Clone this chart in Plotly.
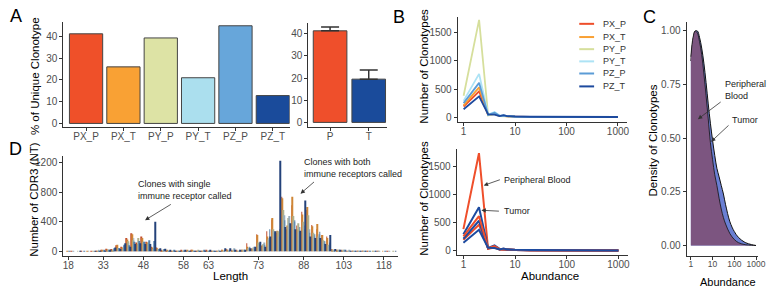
import plotly.graph_objects as go

W, H = 782, 292
FONT = "Liberation Sans, Arial, sans-serif"

# ---------------- data ----------------
samples = ["PX_P", "PX_T", "PY_P", "PY_T", "PZ_P", "PZ_T"]
pct_unique = [41.2, 26.0, 39.3, 21.0, 44.9, 12.8]

groups = ["P", "T"]
group_mean = [41.3, 19.5]
group_err = [1.7, 4.1]

abundance = [1, 2, 3, 4, 5, 6, 7, 8, 10, 20, 50, 100, 1000]
clono_PX_P = [190, 460, 40, 60, 20, 25, 15, 12, 10, 6, 4, 3, 2]
clono_PX_T = [210, 530, 35, 70, 25, 20, 15, 12, 10, 6, 4, 3, 2]
clono_PY_P = [380, 1730, 30, 55, 20, 20, 12, 10, 8, 5, 3, 2, 1]
clono_PY_T = [290, 770, 45, 90, 30, 25, 15, 12, 10, 6, 4, 3, 2]
clono_PZ_P = [250, 610, 40, 80, 25, 30, 18, 14, 12, 7, 5, 3, 2]
clono_PZ_T = [140, 370, 50, 45, 20, 35, 20, 15, 12, 8, 6, 4, 3]

dens_abundance = [1, 1.26, 1.58, 2.0, 2.51, 3.16, 3.98, 5.01, 6.31, 7.94, 10, 12.6,
                  15.8, 20.0, 25.1, 31.6, 39.8, 63.1, 100, 158, 316, 631, 1000]
dens_blood = [0.88, 0.97, 1.00, 0.99, 0.95, 0.89, 0.80, 0.70, 0.59, 0.48, 0.40, 0.33,
              0.28, 0.22, 0.17, 0.13, 0.10, 0.055, 0.028, 0.013, 0.004, 0.001, 0.0]
dens_tumor = [0.86, 0.96, 1.00, 1.00, 0.97, 0.92, 0.85, 0.76, 0.66, 0.57, 0.49, 0.42,
              0.36, 0.32, 0.28, 0.24, 0.19, 0.11, 0.065, 0.037, 0.014, 0.004, 0.0]

cdr3_length = [18, 21, 24, 25, 27, 28, 30, 33, 36, 37, 39, 40, 42, 43, 45, 48, 49, 51, 52,
               54, 55, 56, 57, 58, 59, 60, 61, 62, 63, 64, 65, 66, 67, 68, 69, 70, 71, 72,
               73, 75, 76, 78, 79, 81, 82, 84, 85, 88, 90, 91, 93, 94, 96, 97, 100, 103,
               105, 106, 108, 109, 111, 112, 115, 118, 121, 124]
cdr3_PX_P = [0, 4, 0, 5, 0, 4, 6, 10, 35, 30, 80, 60, 180, 245, 120, 200, 130, 60, 50,
             10, 6, 8, 5, 12, 6, 10, 8, 5, 10, 6, 8, 10, 30, 15, 10, 20, 110, 40,
             230, 70, 270, 430, 250, 740, 300, 625, 350, 535, 560, 355, 300, 220, 200, 30, 15, 10,
             6, 5, 8, 4, 5, 0, 4, 0, 3, 0]
cdr3_PX_T = [5, 0, 0, 0, 6, 0, 8, 12, 25, 20, 90, 50, 160, 230, 100, 180, 120, 50, 40,
             8, 10, 5, 6, 8, 10, 12, 6, 8, 6, 4, 6, 12, 10, 5, 5, 10, 60, 30,
             220, 80, 200, 450, 280, 720, 350, 740, 300, 500, 600, 340, 370, 220, 180, 25, 10, 5,
             8, 4, 5, 6, 4, 5, 0, 4, 0, 0]
cdr3_PY_P = [0, 0, 5, 0, 0, 5, 4, 8, 15, 15, 40, 40, 135, 150, 180, 130, 110, 30, 30,
             10, 5, 6, 8, 6, 4, 8, 10, 6, 5, 8, 5, 6, 5, 10, 5, 10, 40, 50,
             120, 100, 160, 300, 270, 560, 450, 480, 380, 400, 490, 250, 200, 150, 90, 20, 20, 15,
             5, 6, 4, 5, 0, 4, 5, 0, 0, 4]
cdr3_PY_T = [0, 5, 0, 0, 5, 0, 10, 6, 10, 25, 30, 70, 110, 180, 130, 120, 130, 40, 25,
             5, 8, 4, 5, 10, 6, 5, 6, 4, 8, 5, 10, 8, 10, 40, 5, 15, 50, 60,
             90, 120, 180, 270, 200, 490, 480, 400, 260, 350, 300, 200, 230, 120, 70, 15, 10, 10,
             10, 5, 6, 4, 5, 0, 4, 0, 4, 0]
cdr3_PZ_P = [4, 0, 0, 6, 0, 0, 8, 10, 20, 40, 45, 90, 80, 130, 140, 130, 150, 140, 30,
             30, 6, 10, 4, 8, 8, 6, 4, 10, 6, 6, 4, 20, 20, 15, 10, 10, 60, 30,
             110, 90, 300, 250, 300, 420, 300, 420, 330, 300, 250, 230, 265, 140, 120, 20, 15, 10,
             6, 8, 5, 6, 4, 5, 0, 5, 0, 0]
cdr3_PZ_T = [0, 0, 4, 0, 0, 6, 5, 8, 12, 50, 30, 110, 60, 100, 110, 100, 100, 400, 40,
             35, 10, 6, 8, 15, 5, 8, 6, 5, 12, 4, 6, 40, 40, 10, 10, 20, 40, 60,
             130, 60, 200, 270, 1230, 330, 380, 300, 280, 690, 200, 180, 180, 100, 220, 30, 20, 15,
             8, 6, 4, 5, 0, 4, 0, 0, 0, 3]
length_ticks = [18, 33, 48, 58, 63, 73, 88, 103, 118]

# ---------------- styles ----------------
bar_colors = ["#EF5029", "#F9A134", "#DDE3A5", "#ABDFEE", "#67A6DA", "#1A4B9B"]
line_colors = ["#EE4E2A", "#F9A033", "#D6DF9C", "#ADE3F5", "#5B9CD6", "#1D4A9E"]
cdr3_colors = ["#C24E2C", "#CF8636", "#B0B08C", "#98AEBE", "#5281AC", "#24427A"]
RED, BLUE = "#EF4F2B", "#1D4BA0"


def fx(px):
    return px / W


def fy(py):
    return 1 - py / H


def dom_x(a, b):
    return [fx(a), fx(b)]


def dom_y(top, bottom):
    return [fy(bottom), fy(top)]


AX = dict(showline=True, linecolor="#333", linewidth=1, ticks="outside", ticklen=3,
          tickcolor="#333", tickwidth=1, tickfont=dict(size=10, color="#4D4D4D", family=FONT),
          showgrid=False, zeroline=False, fixedrange=True)
XAX = dict(AX, ticklabelstandoff=-3)

fig = go.Figure()

# ---- A left
fig.add_trace(go.Bar(x=samples, y=pct_unique, marker=dict(color=bar_colors, line=dict(color="#444", width=1)),
                     width=0.89, xaxis="x", yaxis="y"))
# ---- A right
fig.add_trace(go.Bar(x=groups, y=group_mean, marker=dict(color=[RED, "#1A4B9B"], line=dict(color="#444", width=1)),
                     width=0.87, xaxis="x2", yaxis="y2",
                     error_y=dict(type="data", array=group_err, arrayminus=[0, 0], symmetric=False,
                                  color="#333", thickness=1.5, width=9)))
# ---- B top
clono = [clono_PX_P, clono_PX_T, clono_PY_P, clono_PY_T, clono_PZ_P, clono_PZ_T]
for s, vals, c in zip(samples, clono, line_colors):
    fig.add_trace(go.Scatter(x=abundance, y=vals, mode="lines", line=dict(color=c, width=1.8),
                             name=s, xaxis="x3", yaxis="y3"))
# ---- B bottom
for s, vals in zip(samples, clono):
    fig.add_trace(go.Scatter(x=abundance, y=vals, mode="lines",
                             line=dict(color=RED if s.endswith("_P") else BLUE, width=2),
                             name=s, xaxis="x4", yaxis="y4"))
# ---- C
fig.add_trace(go.Scatter(x=dens_abundance, y=dens_tumor, mode="lines", fill="tozeroy",
                         fillcolor="#6A7FD3", line=dict(color="#111", width=1, shape="spline"),
                         xaxis="x5", yaxis="y5"))
fig.add_trace(go.Scatter(x=dens_abundance, y=dens_blood, mode="lines", fill="tozeroy",
                         fillcolor="#7C5580", line=dict(color="#111", width=0.8, shape="spline"),
                         xaxis="x5", yaxis="y5"))
# ---- D
cdr3 = [cdr3_PX_P, cdr3_PX_T, cdr3_PY_P, cdr3_PY_T, cdr3_PZ_P, cdr3_PZ_T]
cats = [str(v) for v in cdr3_length]
for s, vals, c in zip(samples, cdr3, cdr3_colors):
    fig.add_trace(go.Bar(x=cats, y=vals, marker=dict(color=c, line=dict(width=0)), name=s,
                         xaxis="x6", yaxis="y6"))

log_ticks = dict(tickvals=[1, 10, 100, 1000], ticktext=["1", "10", "100", "1000"])

fig.update_layout(
    width=W, height=H, margin=dict(l=0, r=0, t=0, b=0),
    paper_bgcolor="white", plot_bgcolor="white", showlegend=False,
    font=dict(family=FONT, color="#000"),
    barmode="group", bargap=0.1, bargroupgap=0,
    xaxis=dict(XAX, domain=dom_x(63, 292), anchor="y", type="category", range=[-0.61, 5.45]),
    yaxis=dict(AX, domain=dom_y(22, 128), anchor="x", range=[-1.7, 46.7], tickvals=[0, 10, 20, 30, 40]),
    xaxis2=dict(XAX, domain=dom_x(311, 390), anchor="y2", type="category", range=[-0.56, 1.46]),
    yaxis2=dict(AX, domain=dom_y(23, 127.7), anchor="x2", range=[-2.0, 44.9], tickvals=[0, 10, 20, 30, 40]),
    xaxis3=dict(XAX, domain=dom_x(462, 633), anchor="y3", type="log", range=[-0.115, 3.17], **log_ticks),
    yaxis3=dict(AX, domain=dom_y(17, 122.7), anchor="x3", range=[-83, 1782], tickvals=[0, 500, 1000, 1500]),
    xaxis4=dict(XAX, domain=dom_x(461, 634), anchor="y4", type="log", range=[-0.13, 3.18], **log_ticks),
    yaxis4=dict(AX, domain=dom_y(150, 256.7), anchor="x4", range=[-78, 1805], tickvals=[0, 500, 1000, 1500]),
    xaxis5=dict(XAX, domain=dom_x(693.5, 766), anchor="y5", type="log", range=[-0.2, 3.1],
                tickfont=dict(size=8.5, color="#4D4D4D", family=FONT), **log_ticks),
    yaxis5=dict(AX, domain=dom_y(21.7, 258), anchor="x5", range=[-0.05, 1.044],
                tickvals=[0, 0.25, 0.5, 0.75, 1.0], ticktext=["0.00", "0.25", "0.50", "0.75", "1.00"]),
    xaxis6=dict(XAX, domain=dom_x(63, 402), anchor="y6", type="category", categoryorder="array",
                categoryarray=cats, range=[-0.99, 65.9], tickvals=[str(v) for v in length_ticks],
                ticktext=[str(v) for v in length_ticks]),
    yaxis6=dict(AX, domain=dom_y(156.7, 257.3), anchor="x6", range=[-58, 1298], tickvals=[0, 400, 800, 1200]),
)

ann = []


def text(px, py, s, size=11.5, angle=0, xanchor="center", align="center", color="#000"):
    ann.append(dict(x=fx(px), y=fy(py), xref="paper", yref="paper", text=s, showarrow=False,
                    textangle=angle, xanchor=xanchor, yanchor="middle", align=align,
                    font=dict(size=size, color=color, family=FONT)))


def arrow(tip_x, tip_y, tail_x, tail_y):
    ann.append(dict(x=fx(tip_x), y=fy(tip_y), xref="paper", yref="paper", text="", showarrow=True,
                    ax=tail_x - tip_x, ay=tail_y - tip_y, axref="pixel", ayref="pixel",
                    arrowhead=2, arrowsize=1.1, arrowwidth=0.8, arrowcolor="#333"))


# panel letters
text(15, 16, "A", size=18)
text(403, 17, "B", size=18)
text(656, 17, "C", size=18)
text(15, 150, "D", size=18)

# axis titles
text(35, 77, "% of Unique Clonotype", angle=-90)
text(427, 67, "Number of Clonotypes", angle=-90)
text(428, 200, "Number of Clonotypes", angle=-90)
text(555, 278, "Abundance")
text(660, 141, "Density of Clonotypes", angle=-90)
text(735.5, 284, "Abundance", size=11)
text(32.5, 201, "Number of CDR3 (NT)", angle=-90)
text(232, 278, "Length")

# legend (panel B top)
leg_rows = [24, 37.3, 49.5, 61.8, 74, 87]
shapes = []
for s, c, yy in zip(samples, line_colors, leg_rows):
    shapes.append(dict(type="line", xref="paper", yref="paper", x0=fx(585), x1=fx(600), y0=fy(yy), y1=fy(yy),
                       line=dict(color=c, width=2)))
    text(606.5, yy, s, size=9, xanchor="left", align="left", color="#333")

# B bottom annotations
text(506.5, 181.5, "Peripheral Blood", size=9, xanchor="left", align="left", color="#222")
arrow(488.3, 186.7, 506, 180.5)
text(507, 212.7, "Tumor", size=9, xanchor="left", align="left", color="#222")
arrow(486, 211.7, 505, 212.7)

# C annotations
text(730, 91, "Peripheral<br>Blood", size=9, xanchor="left", align="left", color="#222")
arrow(705, 120, 729.3, 101.7)
text(737.3, 121, "Tumor", size=9, xanchor="left", align="left", color="#222")
arrow(718.3, 142.7, 737.3, 125)

# D annotations
text(136.7, 191.5, "Clones with single<br>immune receptor called", size=9, xanchor="left", align="left", color="#222")
arrow(145.7, 221.7, 173, 205)
text(305, 169, "Clones with both<br>immune receptors called", size=9, xanchor="left", align="left", color="#222")
arrow(303, 195, 318, 182)

fig.update_layout(annotations=ann, shapes=shapes)
fig.write_html("out.html", config={"displayModeBar": False},
               post_script="document.body.style.margin='0';")
